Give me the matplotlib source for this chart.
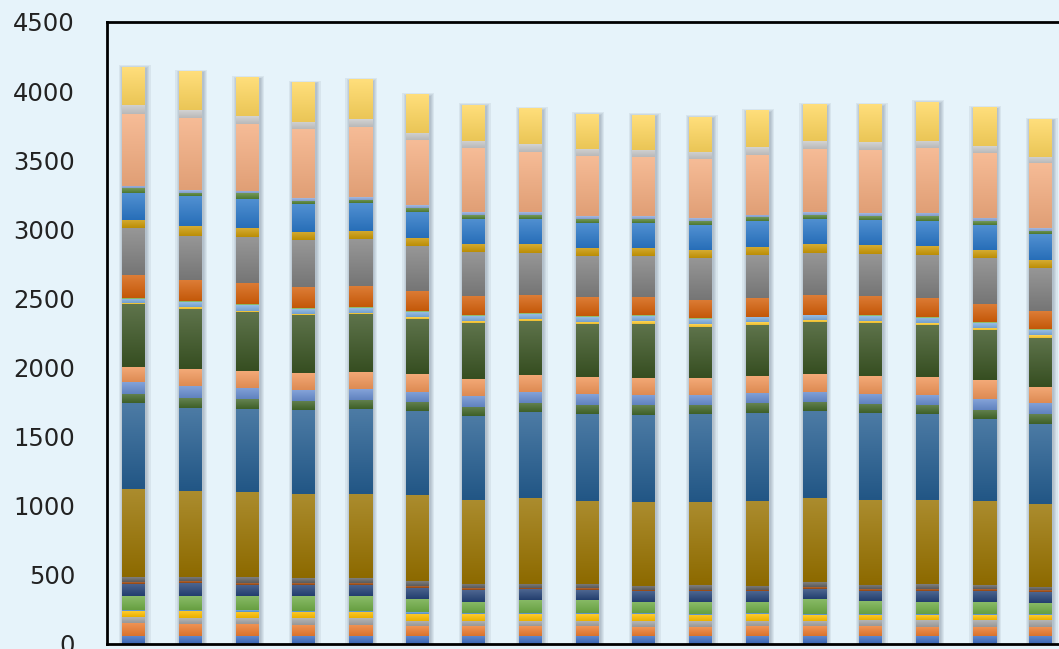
import numpy as np
import matplotlib
matplotlib.use("Agg")
import matplotlib.pyplot as plt
from matplotlib.colors import to_rgb

# categories (x labels are not shown in the source picture)
bars = list(range(1, 18))

# stacked series, bottom to top
blue_base   = [55, 55, 55, 55, 55, 55, 55, 55, 55, 55, 55, 55, 55, 55, 55, 55, 55]
orange_base = [96, 89, 89, 82, 82, 70, 72, 72, 70, 65, 65, 70, 70, 72, 68, 68, 68]
gray_base   = [41, 41, 41, 46, 46, 41, 39, 36, 39, 43, 43, 40, 39, 40, 48, 48, 48]
gold_base   = [41, 53, 46, 46, 46, 51, 46, 48, 48, 48, 46, 46, 39, 41, 36, 36, 36]
sky_thin    = [8, 8, 8, 8, 8, 8, 8, 8, 8, 8, 8, 8, 8, 8, 8, 8, 8]
green_base  = [101, 101, 104, 104, 104, 96, 84, 96, 96, 84, 85, 84, 113, 89, 89, 82, 80]
navy        = [92, 92, 82, 84, 84, 82, 84, 77, 72, 75, 75, 75, 72, 75, 77, 84, 77]
rust_thin   = [12, 12, 12, 12, 12, 12, 12, 12, 12, 12, 12, 12, 12, 12, 12, 12, 12]
charcoal    = [34, 34, 41, 34, 34, 34, 29, 29, 29, 29, 31, 29, 36, 29, 36, 27, 27]
olive       = [640, 620, 618, 610, 610, 623, 610, 623, 603, 606, 603, 615, 611, 615, 610, 611, 596]
steel_blue  = [618, 603, 603, 608, 615, 608, 608, 618, 630, 632, 640, 637, 625, 630, 623, 594, 584]
moss        = [72, 72, 70, 68, 68, 68, 68, 68, 68, 68, 67, 68, 68, 68, 65, 68, 68]
periwinkle  = [80, 84, 84, 76, 76, 76, 76, 76, 76, 76, 72, 76, 76, 76, 72, 77, 80]
apricot     = [115, 121, 123, 124, 124, 124, 124, 124, 124, 124, 120, 124, 124, 124, 133, 135, 121]
forest      = [452, 437, 423, 420, 420, 405, 405, 391, 384, 391, 371, 369, 377, 384, 372, 365, 355]
lemon_thin  = [8, 17, 8, 10, 10, 10, 15, 15, 15, 17, 19, 17, 15, 15, 14, 17, 19]
sky         = [32, 36, 41, 36, 36, 36, 36, 36, 36, 36, 36, 36, 36, 36, 38, 34, 36]
lime_thin   = [8, 8, 8, 6, 6, 6, 6, 6, 6, 6, 6, 6, 6, 6, 6, 6, 6]
rust        = [165, 150, 157, 150, 150, 145, 140, 130, 135, 135, 133, 135, 138, 138, 138, 133, 130]
slate       = [338, 321, 333, 340, 340, 325, 315, 310, 300, 295, 306, 310, 310, 310, 314, 331, 314]
mustard     = [60, 68, 63, 60, 60, 60, 60, 60, 60, 60, 56, 60, 60, 60, 65, 56, 56]
azure       = [195, 215, 212, 200, 200, 190, 185, 185, 180, 180, 181, 185, 185, 185, 179, 186, 186]
leaf        = [33, 24, 38, 28, 28, 28, 28, 28, 28, 28, 29, 28, 28, 28, 34, 27, 24]
mist_thin   = [17, 19, 17, 19, 19, 19, 19, 19, 19, 19, 19, 19, 19, 19, 22, 22, 19]
peach       = [520, 524, 488, 500, 510, 470, 463, 440, 435, 430, 429, 435, 460, 460, 473, 473, 473]
silver      = [67, 56, 56, 53, 53, 53, 53, 53, 53, 53, 53, 53, 53, 53, 53, 48, 48]
butter      = [275, 282, 277, 285, 285, 277, 260, 255, 253, 252, 253, 264, 264, 271, 282, 277, 270]

y_ticks = [0, 500, 1000, 1500, 2000, 2500, 3000, 3500, 4000, 4500]

series = [
    (blue_base, "#4472C4"), (orange_base, "#ED7D31"), (gray_base, "#A5A5A5"),
    (gold_base, "#FFC000"), (sky_thin, "#5B9BD5"), (green_base, "#70AD47"),
    (navy, "#264478"), (rust_thin, "#9E480E"), (charcoal, "#636363"),
    (olive, "#997300"), (steel_blue, "#255E91"), (moss, "#43682B"),
    (periwinkle, "#698ED0"), (apricot, "#F1975A"), (forest, "#3B5524"),
    (lemon_thin, "#FFCD33"), (sky, "#7FAEDF"), (lime_thin, "#8CC168"),
    (rust, "#D5600A"), (slate, "#808080"), (mustard, "#CC9A06"),
    (azure, "#2B78C8"), (leaf, "#548235"), (mist_thin, "#8FAADC"),
    (peach, "#F4AD80"), (silver, "#C9C9C9"), (butter, "#FFD75E"),
]

BG = "#E6F3FA"
px = 1 / 56.7          # one pixel in x data units
py = 4500 / 621.5      # one pixel in y data units
bar_w = 23 * px


def shade(ax, patch, color):
    # vertical gradient per segment, lighter on top
    x0, y0 = patch.get_x(), patch.get_y()
    w, h = patch.get_width(), patch.get_height()
    if h <= 0:
        return
    base = np.array(to_rgb(color))
    top = base + (1 - base) * 0.18
    bot = base * 0.92
    t = np.linspace(0, 1, 32)[:, None]
    grad = top * (1 - t) + bot * t
    ax.imshow(grad[:, None, :], extent=(x0, x0 + w, y0, y0 + h), origin="upper",
              aspect="auto", interpolation="bilinear", zorder=3)


fig = plt.figure(figsize=(10.59, 6.49), dpi=100, facecolor=BG)
ax = fig.add_axes([107 / 1059, (649 - 643.5) / 649, 18 * 56.7 / 1059, 621.5 / 649])
ax.set_facecolor(BG)

x = np.arange(len(bars))
totals = np.sum([s for s, _ in series], axis=0)

# soft shadow around each column
for k in (2, 4, 6, 9):
    ax.bar(x + 1 * px, totals + k * py / 3, width=bar_w + k * px, bottom=-10,
           color="#3c4a58", alpha=0.08, linewidth=0, zorder=1)

bottom = np.zeros(len(bars))
for vals, col in series:
    vals = np.array(vals, dtype=float)
    rects = ax.bar(x, vals, width=bar_w, bottom=bottom, color=col, linewidth=0, zorder=2)
    for r in rects:
        shade(ax, r, col)
    bottom += vals

ax.set_xlim(-0.47, 17.53)
ax.set_ylim(0, 4500)
ax.set_yticks(y_ticks)
ax.set_xticks([])
ax.tick_params(axis="y", length=0, pad=23, labelsize=17.5, labelcolor="#222222")
for sp in ax.spines.values():
    sp.set_linewidth(2)
    sp.set_color("black")

fig.savefig("out.png", dpi=100, facecolor=BG)
